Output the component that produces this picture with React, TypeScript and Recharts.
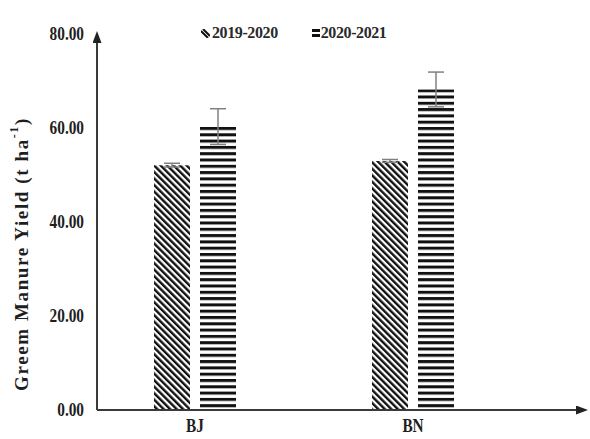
import React from "react"
import { BarChart, Bar, XAxis, YAxis, ErrorBar, Legend } from "recharts"

const categories = ["BJ", "BN"]
const yield2019 = [52.1, 53.0]
const err2019 = [0.4, 0.3]
const yield2020 = [60.3, 68.2]
const err2020 = [3.8, 3.7]
const yTicks = [0, 20, 40, 60, 80]

const data = categories.map((name, i) => ({
  name,
  y2019: yield2019[i],
  e2019: err2019[i],
  y2020: yield2020[i],
  e2020: err2020[i],
}))

const FONT = "'Liberation Serif', 'Times New Roman', serif"
const AXIS = "#3a3a3a"
const TEXT = "#1e1e1e"

// narrow bold serif tick, the source font looks condensed
function NarrowTick({ x, y, payload, anchor, fmt }: any) {
  const label = fmt ? fmt(payload.value) : payload.value
  return (
    <g transform={`translate(${x},${y}) scale(0.85,1)`}>
      <text
        x={0}
        y={0}
        textAnchor={anchor}
        dominantBaseline="central"
        fontFamily={FONT}
        fontWeight="bold"
        fontSize={18}
        fill={TEXT}
      >
        {label}
      </text>
    </g>
  )
}

function LegendBox() {
  return (
    <div style={{ display: "flex", fontFamily: FONT, fontWeight: "bold", fontSize: 16, letterSpacing: -0.4, color: "#2a2a2a" }}>
      <div style={{ display: "flex", alignItems: "center", marginRight: 34 }}>
        <svg width={9} height={9} style={{ marginRight: 2 }}>
          <path d="M0,2 L7,9 M2,0 L9,7" stroke="#111" strokeWidth={2} />
        </svg>
        <span>2019-2020</span>
      </div>
      <div style={{ display: "flex", alignItems: "center" }}>
        <svg width={8} height={8} style={{ marginRight: 1 }}>
          <rect x={0} y={0} width={8} height={3} fill="#111" />
          <rect x={0} y={5} width={8} height={3} fill="#111" />
        </svg>
        <span>2020-2021</span>
      </div>
    </div>
  )
}

function YLabel() {
  return (
    <text
      x={21}
      y={254}
      transform="rotate(-90, 21, 254)"
      textAnchor="middle"
      dominantBaseline="central"
      fontFamily={FONT}
      fontWeight="bold"
      fontSize={19}
      letterSpacing={1.6}
      fill={TEXT}
    >
      Greem Manure Yield (t ha
      <tspan baselineShift="super" fontSize={12}>-1</tspan>
      <tspan>)</tspan>
    </text>
  )
}

export default function App() {
  return (
    <div style={{ position: "fixed", left: 0, top: 0, width: 590, height: 439, background: "#fff" }}>
      <BarChart
        width={590}
        height={439}
        data={data}
        margin={{ top: 16, right: 5, bottom: 0, left: 0 }}
        barSize={36}
        barGap={10}
      >
        <defs>
          <pattern id="hatch" patternUnits="userSpaceOnUse" width={4.6} height={4.6} patternTransform="rotate(-45)">
            <rect x={0} y={0} width={2.4} height={4.6} fill="#111" />
          </pattern>
          <pattern id="stripes" patternUnits="userSpaceOnUse" width={10} height={6.3} y={1}>
            <rect x={0} y={0} width={10} height={3} fill="#111" />
          </pattern>
          <marker id="arrowY" markerUnits="userSpaceOnUse" markerWidth={12} markerHeight={9} refX={9} refY={4.5} orient="auto-start-reverse">
            <path d="M0,0 L12,4.5 L0,9 z" fill="#222" />
          </marker>
          <marker id="arrowX" markerUnits="userSpaceOnUse" markerWidth={12} markerHeight={9} refX={9} refY={4.5} orient="auto">
            <path d="M0,0 L12,4.5 L0,9 z" fill="#222" />
          </marker>
        </defs>
        <XAxis
          dataKey="name"
          height={29}
          padding={{ left: -11, right: 63 }}
          axisLine={{ stroke: AXIS, strokeWidth: 2, markerEnd: "url(#arrowX)" }}
          tickLine={false}
          tickSize={0}
          tickMargin={16}
          tick={<NarrowTick anchor="middle" />}
        />
        <YAxis
          width={97}
          domain={[0, 80]}
          ticks={yTicks}
          axisLine={{ stroke: AXIS, strokeWidth: 2, markerStart: "url(#arrowY)" }}
          tickLine={false}
          tickSize={0}
          tickMargin={13}
          tick={<NarrowTick anchor="end" fmt={(v: number) => v.toFixed(2)} />}
          label={{ content: () => <YLabel /> }}
        />
        <Legend
          verticalAlign="top"
          wrapperStyle={{ top: 24, left: 201, width: 260 }}
          content={() => <LegendBox />}
        />
        <Bar dataKey="y2019" fill="url(#hatch)" isAnimationActive={false}>
          <ErrorBar dataKey="e2019" width={8} stroke="#808080" strokeWidth={1.5} />
        </Bar>
        <Bar dataKey="y2020" fill="url(#stripes)" isAnimationActive={false}>
          <ErrorBar dataKey="e2020" width={8} stroke="#808080" strokeWidth={1.5} />
        </Bar>
      </BarChart>
    </div>
  )
}
